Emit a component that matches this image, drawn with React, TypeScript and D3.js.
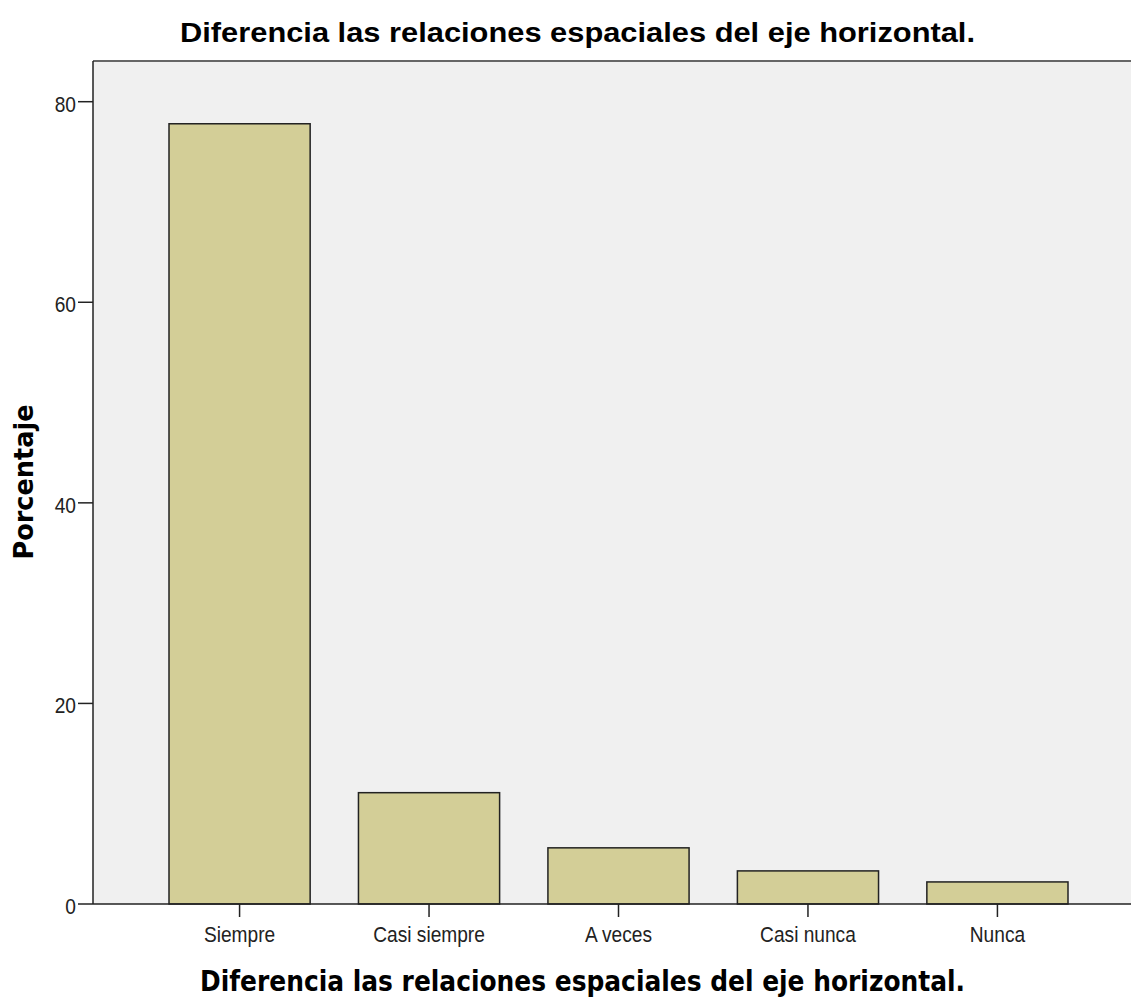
import React from 'react';
import * as d3 from 'd3';

const width = 1131;
const height = 998;

const categories = ['Siempre', 'Casi siempre', 'A veces', 'Casi nunca', 'Nunca'];
const percentages = [77.8, 11.1, 5.6, 3.3, 2.2];
const yTicks = [0, 20, 40, 60, 80];

const title = 'Diferencia las relaciones espaciales del eje horizontal.';
const xTitle = 'Diferencia las relaciones espaciales del eje horizontal.';
const yTitle = 'Porcentaje';

const barFill = '#d3ce97';
const plotBg = '#f0f0f0';
const narrow = '"Liberation Sans Narrow", "Arial Narrow", "Liberation Sans", sans-serif';

export default function App() {
  const plot = { left: 93, top: 61, right: 1131, bottom: 904 };

  const x = d3
    .scaleBand<string>()
    .domain(categories)
    .range([169, 1068])
    .paddingInner(0.255)
    .paddingOuter(0);

  const y = d3.scaleLinear().domain([0, 80]).range([plot.bottom, 101.7]);

  const bars = categories.map((c, i) => (
    <rect
      key={c}
      x={x(c)}
      y={y(percentages[i])}
      width={x.bandwidth()}
      height={y(0) - y(percentages[i])}
      fill={barFill}
      stroke="#222"
      strokeWidth={1.5}
    />
  ));

  return (
    <svg
      width={width}
      height={height}
      style={{ position: 'absolute', left: 0, top: 0, background: '#fff' }}
    >
      <rect
        x={plot.left}
        y={plot.top}
        width={plot.right - plot.left}
        height={plot.bottom - plot.top}
        fill={plotBg}
      />
      <line x1={plot.left} x2={plot.right} y1={plot.top} y2={plot.top} stroke="#666" strokeWidth={2} />

      {bars}

      {/* y axis */}
      <line x1={plot.left} x2={plot.left} y1={plot.top} y2={plot.bottom} stroke="#222" strokeWidth={1.5} />
      {yTicks.map((t) => (
        <g key={t} transform={`translate(${plot.left - 17},${y(t)})`}>
          <line x1={2} x2={17} stroke="#222" strokeWidth={1.5} />
          <text
            transform="scale(0.87,1)"
            y={10}
            textAnchor="end"
            fontFamily={narrow}
            fontSize={22}
            fill="#222"
          >
            {t}
          </text>
        </g>
      ))}

      {/* x axis */}
      <line x1={plot.left} x2={plot.right} y1={plot.bottom} y2={plot.bottom} stroke="#222" strokeWidth={1.5} />
      {categories.map((c) => {
        const cx = (x(c) ?? 0) + x.bandwidth() / 2;
        return (
          <g key={c} transform={`translate(${cx},${plot.bottom})`}>
            <line y1={0} y2={13} stroke="#222" strokeWidth={1.5} />
            <text
              transform="scale(0.87,1)"
              y={38}
              textAnchor="middle"
              fontFamily={narrow}
              fontSize={22}
              fill="#222"
            >
              {c}
            </text>
          </g>
        );
      })}

      <text
        x={577.5}
        y={42}
        textAnchor="middle"
        fontFamily='"Liberation Sans", Arial, sans-serif'
        fontWeight="bold"
        fontSize={28}
        textLength={795}
        lengthAdjust="spacingAndGlyphs"
        fill="#000"
      >
        {title}
      </text>

      <text
        x={582.5}
        y={991}
        textAnchor="middle"
        fontFamily='"DejaVu Sans", sans-serif'
        fontWeight="bold"
        fontSize={29}
        textLength={765}
        lengthAdjust="spacingAndGlyphs"
        fill="#000"
      >
        {xTitle}
      </text>

      <text
        transform={`translate(33,482) rotate(-90)`}
        textAnchor="middle"
        fontFamily='"DejaVu Sans", sans-serif'
        fontWeight="bold"
        fontSize={27}
        textLength={155}
        lengthAdjust="spacingAndGlyphs"
        fill="#000"
      >
        {yTitle}
      </text>
    </svg>
  );
}
